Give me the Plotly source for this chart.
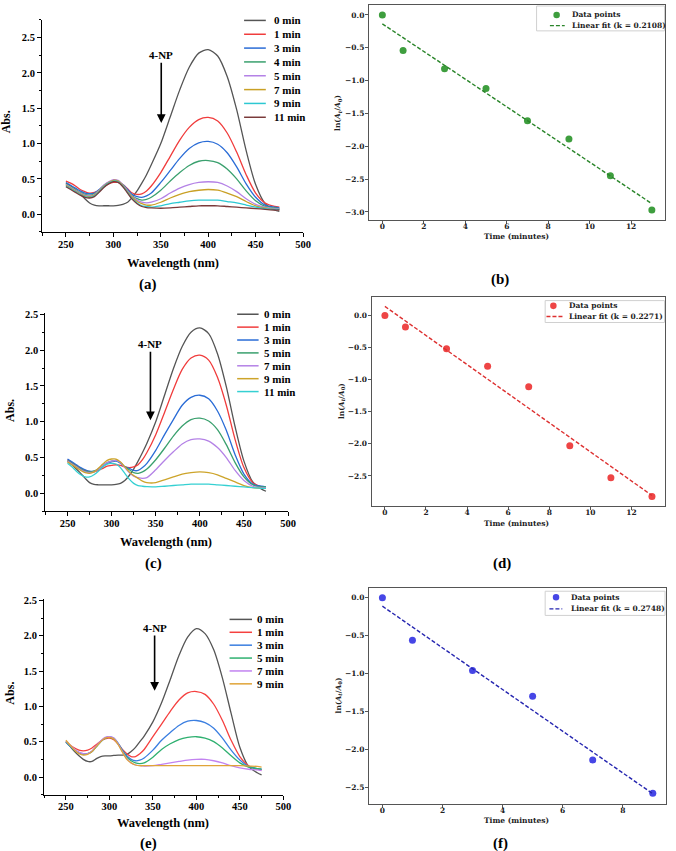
import numpy as np
import plotly.graph_objects as go

W, H = 676, 851

# ---------------- data ----------------
WL = [250, 255, 260, 265, 270, 275, 280, 285, 290, 295, 300, 305, 310, 315, 320, 325, 330, 335, 340,
      350, 360, 370, 380, 390, 400, 410, 420, 430, 440, 450, 460, 470, 475]

# panel (a)
A_LABELS = ["0 min", "1 min", "3 min", "4 min", "5 min", "7 min", "9 min", "11 min"]
A_0 = [0.44, 0.40, 0.35, 0.29, 0.22, 0.16, 0.13, 0.12, 0.12, 0.12, 0.12, 0.125, 0.14, 0.17, 0.24, 0.33, 0.44, 0.56, 0.70,
       1.00, 1.38, 1.76, 2.08, 2.28, 2.33, 2.24, 1.95, 1.48, 0.90, 0.42, 0.15, 0.06, 0.04]
A_1 = [0.47, 0.44, 0.40, 0.35, 0.32, 0.30, 0.31, 0.34, 0.39, 0.43, 0.45, 0.45, 0.42, 0.36, 0.30, 0.28, 0.29, 0.33, 0.40,
       0.59, 0.82, 1.05, 1.23, 1.34, 1.37, 1.32, 1.15, 0.88, 0.56, 0.30, 0.16, 0.11, 0.10]
A_3 = [0.45, 0.41, 0.37, 0.33, 0.30, 0.29, 0.30, 0.35, 0.41, 0.45, 0.47, 0.46, 0.42, 0.35, 0.28, 0.25, 0.24, 0.26, 0.30,
       0.45, 0.62, 0.79, 0.93, 1.01, 1.03, 0.99, 0.87, 0.67, 0.43, 0.24, 0.13, 0.10, 0.09]
A_4 = [0.43, 0.39, 0.35, 0.31, 0.28, 0.27, 0.29, 0.34, 0.40, 0.45, 0.47, 0.46, 0.41, 0.33, 0.26, 0.22, 0.20, 0.21, 0.24,
       0.34, 0.47, 0.59, 0.69, 0.75, 0.76, 0.73, 0.64, 0.50, 0.33, 0.19, 0.11, 0.09, 0.08]
A_5 = [0.42, 0.38, 0.34, 0.30, 0.27, 0.26, 0.28, 0.34, 0.41, 0.46, 0.49, 0.48, 0.42, 0.33, 0.25, 0.20, 0.17, 0.16, 0.17,
       0.22, 0.30, 0.37, 0.42, 0.45, 0.46, 0.45, 0.40, 0.32, 0.22, 0.14, 0.10, 0.08, 0.08]
A_7 = [0.41, 0.37, 0.33, 0.29, 0.26, 0.25, 0.27, 0.33, 0.40, 0.45, 0.48, 0.47, 0.41, 0.32, 0.24, 0.18, 0.15, 0.13, 0.13,
       0.17, 0.23, 0.28, 0.32, 0.34, 0.35, 0.34, 0.30, 0.25, 0.18, 0.12, 0.09, 0.07, 0.07]
A_9 = [0.40, 0.36, 0.32, 0.28, 0.25, 0.24, 0.26, 0.32, 0.39, 0.44, 0.47, 0.46, 0.40, 0.31, 0.22, 0.16, 0.12, 0.11, 0.10,
       0.12, 0.15, 0.17, 0.19, 0.20, 0.20, 0.20, 0.18, 0.16, 0.13, 0.10, 0.08, 0.07, 0.07]
A_11 = [0.39, 0.35, 0.31, 0.27, 0.24, 0.23, 0.25, 0.31, 0.38, 0.43, 0.46, 0.45, 0.39, 0.30, 0.21, 0.15, 0.11, 0.095, 0.09,
        0.085, 0.09, 0.10, 0.11, 0.12, 0.12, 0.12, 0.11, 0.10, 0.09, 0.08, 0.07, 0.06, 0.06]
A_SERIES = [A_0, A_1, A_3, A_4, A_5, A_7, A_9, A_11]
A_COLORS = ["#555555", "#f03c3c", "#2a6cd6", "#3aa06e", "#b482e6", "#c9a025", "#2cc8d2", "#7a3a3a"]

# panel (c)
C_LABELS = ["0 min", "1 min", "3 min", "5 min", "7 min", "9 min", "11 min"]
C_0 = [0.45, 0.40, 0.34, 0.28, 0.21, 0.15, 0.125, 0.12, 0.12, 0.12, 0.12, 0.125, 0.14, 0.18, 0.25, 0.34, 0.45, 0.57, 0.70,
       1.00, 1.37, 1.74, 2.05, 2.25, 2.31, 2.23, 1.95, 1.49, 0.93, 0.45, 0.16, 0.06, 0.03]
C_1 = [0.47, 0.43, 0.39, 0.35, 0.32, 0.30, 0.30, 0.32, 0.35, 0.38, 0.39, 0.40, 0.39, 0.37, 0.36, 0.37, 0.40, 0.47, 0.57,
       0.82, 1.13, 1.45, 1.73, 1.89, 1.93, 1.86, 1.62, 1.23, 0.75, 0.36, 0.15, 0.09, 0.08]
C_3 = [0.48, 0.44, 0.40, 0.36, 0.33, 0.31, 0.31, 0.34, 0.38, 0.42, 0.44, 0.45, 0.42, 0.37, 0.35, 0.32, 0.32, 0.36, 0.42,
       0.60, 0.82, 1.03, 1.23, 1.34, 1.37, 1.32, 1.15, 0.88, 0.54, 0.27, 0.13, 0.10, 0.09]
C_5 = [0.46, 0.42, 0.38, 0.34, 0.31, 0.30, 0.31, 0.34, 0.39, 0.43, 0.45, 0.46, 0.43, 0.37, 0.33, 0.29, 0.28, 0.30, 0.34,
       0.47, 0.63, 0.80, 0.94, 1.03, 1.05, 1.01, 0.89, 0.68, 0.43, 0.23, 0.12, 0.09, 0.09]
C_7 = [0.45, 0.41, 0.37, 0.33, 0.30, 0.29, 0.30, 0.34, 0.39, 0.43, 0.45, 0.46, 0.43, 0.36, 0.29, 0.24, 0.22, 0.21, 0.22,
       0.33, 0.46, 0.58, 0.69, 0.75, 0.76, 0.73, 0.64, 0.50, 0.32, 0.18, 0.10, 0.08, 0.08]
C_9 = [0.44, 0.40, 0.36, 0.32, 0.29, 0.28, 0.30, 0.35, 0.41, 0.46, 0.48, 0.48, 0.44, 0.37, 0.30, 0.25, 0.21, 0.17, 0.15,
       0.15, 0.19, 0.23, 0.27, 0.29, 0.30, 0.29, 0.26, 0.21, 0.16, 0.11, 0.08, 0.07, 0.07]
C_11 = [0.42, 0.37, 0.31, 0.26, 0.23, 0.23, 0.26, 0.31, 0.37, 0.41, 0.42, 0.41, 0.36, 0.28, 0.20, 0.14, 0.11, 0.10, 0.095,
        0.09, 0.10, 0.11, 0.12, 0.13, 0.13, 0.13, 0.12, 0.11, 0.10, 0.09, 0.08, 0.07, 0.07]
C_SERIES = [C_0, C_1, C_3, C_5, C_7, C_9, C_11]
C_COLORS = ["#555555", "#f03c3c", "#2a6cd6", "#3aa06e", "#b482e6", "#cda42a", "#35d0d2"]

# panel (e)
E_LABELS = ["0 min", "1 min", "3 min", "5 min", "7 min", "9 min"]
E_0 = [0.50, 0.43, 0.36, 0.30, 0.25, 0.22, 0.22, 0.26, 0.29, 0.30, 0.30, 0.305, 0.31, 0.31, 0.32, 0.36, 0.42, 0.50, 0.58,
       0.78, 1.05, 1.38, 1.72, 1.98, 2.10, 2.03, 1.80, 1.40, 0.90, 0.42, 0.15, 0.06, 0.03]
E_1 = [0.50, 0.45, 0.41, 0.38, 0.37, 0.38, 0.41, 0.46, 0.51, 0.54, 0.55, 0.53, 0.47, 0.39, 0.33, 0.29, 0.29, 0.33, 0.39,
       0.57, 0.75, 0.93, 1.09, 1.19, 1.21, 1.17, 1.03, 0.80, 0.52, 0.29, 0.16, 0.11, 0.10]
E_3 = [0.49, 0.43, 0.38, 0.35, 0.33, 0.33, 0.36, 0.43, 0.50, 0.55, 0.57, 0.55, 0.48, 0.38, 0.30, 0.25, 0.23, 0.24, 0.27,
       0.38, 0.52, 0.63, 0.73, 0.79, 0.80, 0.77, 0.69, 0.55, 0.38, 0.24, 0.15, 0.12, 0.11]
E_5 = [0.50, 0.44, 0.38, 0.34, 0.32, 0.33, 0.36, 0.43, 0.50, 0.55, 0.56, 0.54, 0.47, 0.37, 0.28, 0.23, 0.20, 0.19, 0.20,
       0.28, 0.39, 0.47, 0.53, 0.56, 0.57, 0.55, 0.50, 0.41, 0.30, 0.20, 0.14, 0.12, 0.11]
E_7 = [0.51, 0.45, 0.39, 0.35, 0.33, 0.33, 0.37, 0.44, 0.51, 0.56, 0.57, 0.55, 0.47, 0.36, 0.26, 0.20, 0.17, 0.16, 0.155,
       0.16, 0.18, 0.20, 0.22, 0.24, 0.25, 0.25, 0.23, 0.20, 0.16, 0.13, 0.11, 0.10, 0.09]
E_9 = [0.52, 0.45, 0.38, 0.33, 0.31, 0.32, 0.36, 0.43, 0.50, 0.55, 0.56, 0.54, 0.46, 0.35, 0.25, 0.20, 0.17, 0.16, 0.16,
       0.16, 0.16, 0.16, 0.16, 0.16, 0.16, 0.16, 0.16, 0.16, 0.16, 0.16, 0.155, 0.15, 0.14]
E_SERIES = [E_0, E_1, E_3, E_5, E_7, E_9]
E_COLORS = ["#555555", "#f5403f", "#3a7ee0", "#2fb070", "#c283f0", "#e0a438"]

# kinetics panels (b), (d), (f)
T_B = [0, 1, 3, 5, 7, 9, 11, 13]
LN_B = [0.0, -0.54, -0.82, -1.12, -1.61, -1.89, -2.45, -2.97]
K_B = "0.2108"
T_D = [0, 1, 3, 5, 7, 9, 11, 13]
LN_D = [0.0, -0.18, -0.52, -0.79, -1.11, -2.03, -2.53, -2.82]
K_D = "0.2271"
T_F = [0, 1, 3, 5, 7, 9]
LN_F = [0.0, -0.56, -0.96, -1.30, -2.14, -2.58]
K_F = "0.2748"

# ---------------- helpers ----------------
def xdom(a, b):
    return [a / W, b / W]

def ydom(top, bot):
    return [1 - bot / H, 1 - top / H]

def PX(x):
    return x / W

def PY(y):
    return 1 - y / H

fig = go.Figure()
layout = dict(width=W, height=H, margin=dict(l=0, r=0, t=0, b=0),
              paper_bgcolor="white", plot_bgcolor="white", showlegend=False)
annotations = []
shapes = []

SERIF = "Liberation Serif"
MPL = "DejaVu Serif"
spec_tick = dict(family=SERIF, size=10.5, color="black", weight="bold")

def spectra_panel(i, series, colors, labels, xd, yd, yr, arrow, legend, texts):
    for s, c, lab in zip(series, colors, labels):
        fig.add_trace(go.Scatter(x=WL, y=s, mode="lines", name=lab,
                                 line=dict(color=c, width=1.3, shape="spline", smoothing=0.8),
                                 xaxis=f"x{i}", yaxis=f"y{i}", showlegend=False))
    common = dict(showline=True, linecolor="black", linewidth=1.3, ticks="outside", ticklen=4,
                  tickwidth=1.2, tickcolor="black", showgrid=False, zeroline=False, tickfont=spec_tick)
    layout[f"xaxis{i}"] = dict(domain=xd, range=[225, 500], anchor=f"y{i}", tick0=250, dtick=50,
                               ticklabelstandoff=-2,
                               minor=dict(ticks="outside", ticklen=2.5, tickwidth=1, tickcolor="black",
                                          tick0=225, dtick=25), **common)
    layout[f"yaxis{i}"] = dict(domain=yd, range=yr, anchor=f"x{i}", tick0=0, dtick=0.5, tickformat=".1f",
                               minor=dict(ticks="outside", ticklen=2.5, tickwidth=1, tickcolor="black",
                                          tick0=0, dtick=0.25), **common)
    ax_x, head_y, text_y = arrow
    annotations.append(dict(x=ax_x, y=head_y, ax=ax_x, ay=text_y, xref=f"x{i}", yref=f"y{i}",
                            axref=f"x{i}", ayref=f"y{i}", text="4-NP", showarrow=True, arrowhead=2,
                            arrowsize=1.1, arrowwidth=1.6, arrowcolor="black", standoff=0,
                            font=dict(family=SERIF, size=11, color="black", weight="bold")))
    lx0, lx1, tx, ty0, step = legend
    for k, (c, lab) in enumerate(zip(colors, labels)):
        yy = ty0 + k * step
        shapes.append(dict(type="line", xref="paper", yref="paper", x0=PX(lx0), x1=PX(lx1),
                           y0=PY(yy), y1=PY(yy), line=dict(color=c, width=1.5)))
        annotations.append(dict(x=PX(tx), y=PY(yy), xref="paper", yref="paper", text=lab, showarrow=False,
                                xanchor="left", yanchor="middle",
                                font=dict(family=SERIF, size=11, color="black", weight="bold")))
    (absx, absy), (wx, wy), (lbx, lby, lbl) = texts
    annotations.append(dict(x=PX(absx), y=PY(absy), xref="paper", yref="paper", text="Abs.", textangle=-90,
                            showarrow=False, xanchor="center", yanchor="middle",
                            font=dict(family=SERIF, size=12, color="black", weight="bold")))
    annotations.append(dict(x=PX(wx), y=PY(wy), xref="paper", yref="paper", text="Wavelength (nm)",
                            showarrow=False, xanchor="center", yanchor="middle",
                            font=dict(family=SERIF, size=12.5, color="black", weight="bold")))
    annotations.append(dict(x=PX(lbx), y=PY(lby), xref="paper", yref="paper", text=lbl,
                            showarrow=False, xanchor="center", yanchor="middle",
                            font=dict(family=SERIF, size=15, color="black", weight="bold")))


def kinetic_panel(i, t, ln, k, pcol, fcol, xd, yd, legend, texts):
    slope, icpt = np.polyfit(t, ln, 1)
    fx = [min(t), max(t)]
    fy = [icpt + slope * v for v in fx]
    fig.add_trace(go.Scatter(x=t, y=ln, mode="markers", name="Data points",
                             marker=dict(color=pcol, size=7, line=dict(width=0)),
                             xaxis=f"x{i}", yaxis=f"y{i}", showlegend=False))
    fig.add_trace(go.Scatter(x=fx, y=fy, mode="lines", name=f"Linear fit (k = {k})",
                             line=dict(color=fcol, width=1.4, dash="4px,2px"),
                             xaxis=f"x{i}", yaxis=f"y{i}", showlegend=False))
    xspan = max(t) - min(t)
    ymin = min(min(ln), min(fy)); ymax = max(max(ln), max(fy))
    yspan = ymax - ymin
    tickf = dict(family=MPL, size=7.5, color="#222", weight="bold")
    common = dict(showline=True, mirror=True, linecolor="#555", linewidth=1, ticks="outside", ticklen=3,
                  tickwidth=1, tickcolor="#555", showgrid=False, zeroline=False, tickfont=tickf)
    layout[f"xaxis{i}"] = dict(domain=xd, range=[min(t) - 0.05 * xspan, max(t) + 0.05 * xspan],
                               anchor=f"y{i}", tick0=0, dtick=2, ticklabelstandoff=-4, **common)
    layout[f"yaxis{i}"] = dict(domain=yd, range=[ymin - 0.05 * yspan, ymax + 0.05 * yspan],
                               anchor=f"x{i}", tick0=0, dtick=0.5, tickformat=".1f",
                               ticklabelstandoff=-1, **common)
    bx0, bx1, by0, by1, mx, my, lx0, lx1, ly, tx = legend
    shapes.append(dict(type="rect", xref="paper", yref="paper", x0=PX(bx0), x1=PX(bx1), y0=PY(by1), y1=PY(by0),
                       line=dict(color="#d0d0d0", width=1), fillcolor="rgba(255,255,255,0.85)"))
    r = 3.3
    shapes.append(dict(type="circle", xref="paper", yref="paper", x0=PX(mx - r), x1=PX(mx + r),
                       y0=PY(my + r), y1=PY(my - r), line=dict(width=0), fillcolor=pcol))
    shapes.append(dict(type="line", xref="paper", yref="paper", x0=PX(lx0), x1=PX(lx1), y0=PY(ly), y1=PY(ly),
                       line=dict(color=fcol, width=1.4, dash="4px,2px")))
    lf = dict(family=MPL, size=7.5, color="#222", weight="bold")
    annotations.append(dict(x=PX(tx), y=PY(my), xref="paper", yref="paper", text="Data points",
                            showarrow=False, xanchor="left", yanchor="middle", font=lf))
    annotations.append(dict(x=PX(tx), y=PY(ly), xref="paper", yref="paper", text=f"Linear fit (k = {k})",
                            showarrow=False, xanchor="left", yanchor="middle", font=lf))
    (yx, yy), (tx2, ty2), (lbx, lby, lbl) = texts
    af = dict(family=MPL, size=7.5, color="#222", weight="bold")
    annotations.append(dict(x=PX(yx), y=PY(yy), xref="paper", yref="paper",
                            text="ln(<i>A</i><sub><i>t</i></sub>/<i>A</i><sub>0</sub>)", textangle=-90,
                            showarrow=False, xanchor="center", yanchor="middle", font=af))
    annotations.append(dict(x=PX(tx2), y=PY(ty2), xref="paper", yref="paper", text="Time (minutes)",
                            showarrow=False, xanchor="center", yanchor="middle", font=af))
    annotations.append(dict(x=PX(lbx), y=PY(lby), xref="paper", yref="paper", text=lbl,
                            showarrow=False, xanchor="center", yanchor="middle",
                            font=dict(family=SERIF, size=15, color="black", weight="bold")))


# (a)
spectra_panel(1, A_SERIES, A_COLORS, A_LABELS, xdom(42.7, 306.7), ydom(16, 229), [-0.25, 2.75],
              (350.5, 1.29, 2.25), (247, 269, 275, 16.5, 13.9),
              ((7, 118), (175, 260), (150, 282, "(a)")))
# (c)
spectra_panel(3, C_SERIES, C_COLORS, C_LABELS, xdom(46, 291.5), ydom(310.3, 509.7), [-0.25, 2.52],
              (344, 1.02, 2.08), (240, 261.7, 265, 311.7, 12.95),
              ((10, 408), (168, 541), (155, 562, "(c)")))
# (e)
spectra_panel(5, E_SERIES, E_COLORS, E_LABELS, xdom(44.7, 286.7), ydom(597.8, 794.4), [-0.25, 2.52],
              (352, 1.22, 2.11), (232.3, 255, 257.7, 618.3, 12.95),
              ((10, 692), (165, 823), (150, 843, "(e)")))
# (b)
kinetic_panel(2, T_B, LN_B, K_B, "#3e9e3e", "#2a852a", xdom(373.3, 673.3), ydom(1.2, 216.8),
              (543, 672.5, 2, 27, 563.3, 11, 556.5, 571.5, 21.7, 576.7),
              ((342.5, 109), (523, 234), (506, 277, "(b)")))
# (d)
kinetic_panel(4, T_D, LN_D, K_D, "#ee4545", "#dd3030", xdom(376, 673.3), ydom(294.3, 504.3),
              (551.7, 672.5, 298, 320, 560, 303.3, 553, 570, 314, 574),
              ((346, 399), (522.7, 521.7), (508, 562, "(d)")))
# (f)
kinetic_panel(6, T_F, LN_F, K_F, "#4646e6", "#2626b0", xdom(373.3, 674.3), ydom(586.7, 803.3),
              (551.7, 673, 590, 614.3, 562.7, 596, 556, 569, 607.7, 576),
              ((342.7, 695), (523, 820), (506, 843, "(f)")))

layout["annotations"] = annotations
layout["shapes"] = shapes
fig.update_layout(**layout)
fig.write_html("out.html")
